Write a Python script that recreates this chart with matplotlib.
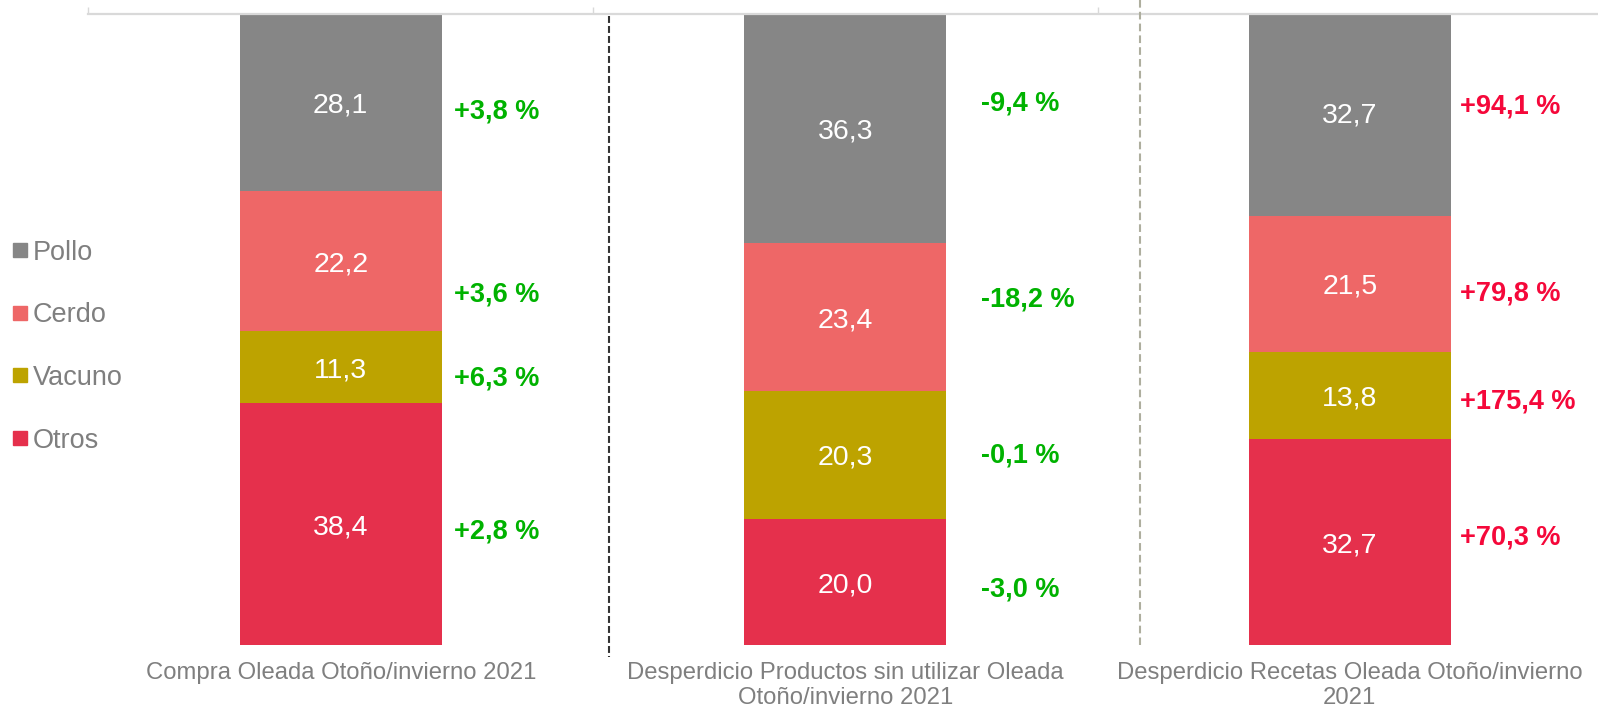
import matplotlib
matplotlib.use('Agg')
import matplotlib.pyplot as plt
from matplotlib.patches import Rectangle
import numpy as np

plt.rcParams['font.family'] = ['Liberation Sans', 'DejaVu Sans']
plt.rcParams['lines.scale_dashes'] = False

# ---------------- data ----------------
categories = ["Compra Oleada Otoño/invierno 2021",
              "Desperdicio Productos sin utilizar Oleada\nOtoño/invierno 2021",
              "Desperdicio Recetas Oleada Otoño/invierno\n2021"]
series_names = ["Otros", "Vacuno", "Cerdo", "Pollo"]          # bottom -> top
otros = [38.4, 20.0, 32.7]
vacuno = [11.3, 20.3, 13.8]
cerdo = [22.2, 23.4, 21.5]
pollo = [28.1, 36.3, 32.7]
chg_otros = ["+2,8 %", "-3,0 %", "+70,3 %"]
chg_vacuno = ["+6,3 %", "-0,1 %", "+175,4 %"]
chg_cerdo = ["+3,6 %", "-18,2 %", "+79,8 %"]
chg_pollo = ["+3,8 %", "-9,4 %", "+94,1 %"]
legend_order = ["Pollo", "Cerdo", "Vacuno", "Otros"]

# ---------------- styles / layout ----------------
colors = {"Pollo": "#868686", "Cerdo": "#EE6767", "Vacuno": "#BDA300", "Otros": "#E5304C"}
GREEN = "#00B200"
RED = "#F5083A"
chg_colors = [GREEN, GREEN, RED]
GRAY_TXT = "#7F7F7F"
# annotation positions for the change labels (y in axis units, x offset from bar centre)
pct_y = {"Pollo": [84.9, 86.2, 85.7],
         "Cerdo": [56.0, 55.2, 56.2],
         "Vacuno": [42.7, 30.5, 39.0],
         "Otros": [18.4, 9.2, 17.5]}
pct_dx = [0.2245, 0.269, 0.2195]

W, H, DPI = 1598, 709, 100
fig = plt.figure(figsize=(W / DPI, H / DPI), dpi=DPI)
left_px, right_px, top_px, bot_px = 88.5, 88.5 + 3 * 504.5, 14, 645
ax = fig.add_axes([left_px / W, (H - bot_px) / H, (right_px - left_px) / W, (bot_px - top_px) / H])

data = {"Otros": otros, "Vacuno": vacuno, "Cerdo": cerdo, "Pollo": pollo}
changes = {"Otros": chg_otros, "Vacuno": chg_vacuno, "Cerdo": chg_cerdo, "Pollo": chg_pollo}
x = np.arange(len(categories))
bottom = np.zeros(len(categories))
VAL_FS = 20.5
PCT_FS = 19.5
for name in series_names:
    vals = np.array(data[name])
    ax.bar(x, vals, width=0.4, bottom=bottom, color=colors[name], edgecolor='none', zorder=2)
    for i, (v, b) in enumerate(zip(vals, bottom)):
        yc = b + v / 2
        ax.annotate(f"{v:.1f}".replace('.', ','), xy=(x[i], yc), xycoords='data',
                    xytext=(0, -0.358 * VAL_FS * DPI / 72), textcoords='offset pixels',
                    ha='center', va='baseline', color='white', fontsize=VAL_FS, zorder=3)
        ax.annotate(changes[name][i], xy=(x[i] + pct_dx[i], pct_y[name][i]), xycoords='data',
                    xytext=(0, -0.358 * PCT_FS * DPI / 72), textcoords='offset pixels',
                    ha='left', va='baseline', color=chg_colors[i], fontsize=PCT_FS,
                    fontweight='bold', zorder=3)
    bottom = bottom + vals

ax.set_xlim(-0.5, 2.5)
ax.set_ylim(0, 100)
for s in ['left', 'right', 'bottom']:
    ax.spines[s].set_visible(False)
ax.spines['top'].set_color('#D9D9D9')
ax.spines['top'].set_linewidth(1.6)
ax.set_yticks([])
ax.set_xticks([-0.5, 0.5, 1.5, 2.5])
ax.tick_params(axis='x', bottom=False, top=True, labelbottom=False, labeltop=False,
               direction='out', length=5, width=1, color='#D9D9D9')

# category labels
for i, lab in enumerate(categories):
    ax.annotate(lab, xy=(x[i], 0), xycoords=('data', 'axes fraction'),
                xytext=(0, -17), textcoords='offset pixels', ha='center', va='top',
                fontsize=17.2, color=GRAY_TXT, linespacing=1.17)

# dashed separators
ax.plot([0.5317, 0.5317], [99.7, -1.9], color='#333333', lw=1.5, dashes=(5, 2.2),
        clip_on=False, zorder=4)
ax.plot([1.5843, 1.5843], [102.2, 0], color='#AEAE9E', lw=1.5, dashes=(5.5, 3),
        clip_on=False, zorder=4)

# legend (manual)
LEG_FS = 19.5
for k, name in enumerate(legend_order):
    yc = 250 + k * 62.7
    fig.patches.append(Rectangle((13 / W, (H - yc - 7) / H), 14 / W, 14 / H,
                                 transform=fig.transFigure, color=colors[name]))
    fig.text(33 / W, (H - yc - 0.358 * LEG_FS * DPI / 72) / H, name, ha='left', va='baseline',
             fontsize=LEG_FS, color=GRAY_TXT)

fig.savefig('out.png', dpi=DPI)
